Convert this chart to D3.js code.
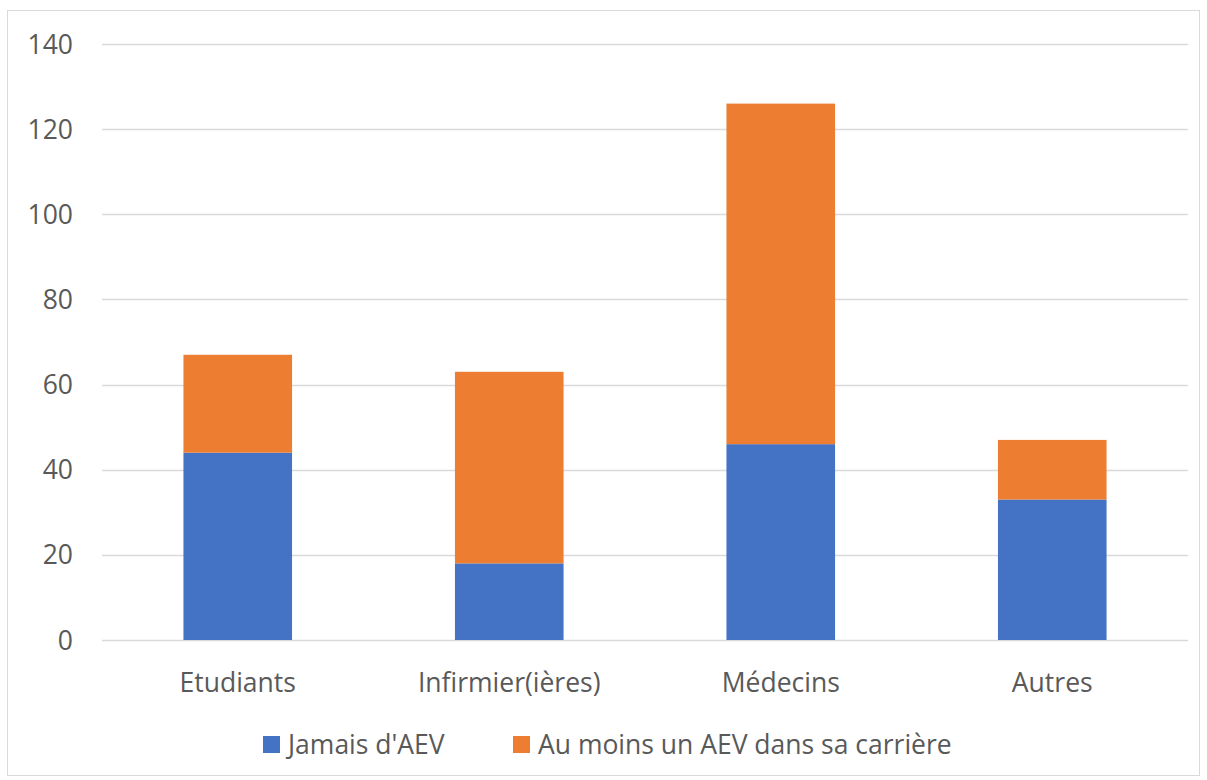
<!DOCTYPE html>
<html>
<head>
<meta charset="utf-8">
<script src="https://cdn.jsdelivr.net/npm/d3@7"></script>
<style>
  body { margin: 0; background: #fff; }
  text { font-family: "Open Sans", "Noto Sans", sans-serif; fill: #595959; }
</style>
</head>
<body>
<div id="chart"></div>
<script>
// chart data
const categories = ["Etudiants", "Infirmier(ières)", "Médecins", "Autres"];
const jamais = [44, 18, 46, 33];
const auMoins = [23, 45, 80, 14];
const seriesNames = ["Jamais d'AEV", "Au moins un AEV dans sa carrière"];
const seriesColors = ["#4472C4", "#ED7D31"];
const yTicks = [0, 20, 40, 60, 80, 100, 120, 140];

const width = 1207, height = 780;
const margin = {top: 44, right: 19, bottom: 140, left: 102};
const fontSize = "26.5px";

let svg = d3.select("#chart")
    .append("svg")
    .attr("width", width)
    .attr("height", height);

// outer chart border
svg.append("rect")
    .attr("x", 7.5).attr("y", 10.5)
    .attr("width", 1192).attr("height", 765)
    .attr("fill", "none")
    .attr("stroke", "#d9d9d9")
    .attr("stroke-width", 1);

let g = svg.append("g")
    .attr("transform", `translate(${margin.left},${margin.top})`);

const innerW = width - margin.left - margin.right;
const innerH = 640 - margin.top;

let x = d3.scaleBand()
    .domain(categories)
    .range([0, innerW])
    .paddingInner(0.6)
    .paddingOuter(0.3);

let y = d3.scaleLinear()
    .domain([0, 140])
    .range([innerH, 0]);

// gridlines
g.append("g")
    .selectAll("line")
    .data(yTicks)
    .enter()
    .append("line")
    .attr("x1", 0)
    .attr("x2", innerW)
    .attr("y1", d => Math.round(y(d)) + 0.5)
    .attr("y2", d => Math.round(y(d)) + 0.5)
    .attr("stroke", "#d9d9d9")
    .attr("stroke-width", 1.5);

// y labels
g.selectAll(".ylab")
    .data(yTicks)
    .enter()
    .append("text")
    .attr("class", "ylab")
    .attr("x", -29)
    .attr("y", d => y(d))
    .attr("dy", "0.36em")
    .style("text-anchor", "end")
    .style("font-size", fontSize)
    .text(d => d);

// stack the two series
let rows = categories.map((c, i) => ({cat: c, s0: jamais[i], s1: auMoins[i]}));
let stack = d3.stack().keys(["s0", "s1"])(rows);

g.selectAll(".series")
    .data(stack)
    .enter()
    .append("g")
    .attr("fill", (d, i) => seriesColors[i])
    .selectAll("rect")
    .data(d => d)
    .enter()
    .append("rect")
    .attr("x", d => x(d.data.cat))
    .attr("y", d => y(d[1]))
    .attr("width", x.bandwidth())
    .attr("height", d => y(d[0]) - y(d[1]));

// x labels
g.selectAll(".xlab")
    .data(categories)
    .enter()
    .append("text")
    .attr("class", "xlab")
    .attr("x", d => x(d) + x.bandwidth() / 2)
    .attr("y", innerH + 52)
    .style("text-anchor", "middle")
    .style("font-size", fontSize)
    .text(d => d);

// legend
let legend = svg.append("g");
const legendX = [263, 513];
seriesNames.forEach(function(name, i) {
    legend.append("rect")
        .attr("x", legendX[i]).attr("y", 736)
        .attr("width", 17).attr("height", 17)
        .attr("fill", seriesColors[i]);
    legend.append("text")
        .attr("x", legendX[i] + 25)
        .attr("y", 754)
        .style("font-size", fontSize)
        .text(name);
});
</script>
</body>
</html>
